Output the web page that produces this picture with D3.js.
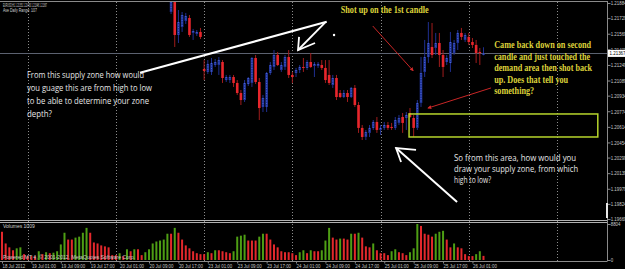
<!DOCTYPE html>
<html>
<head>
<meta charset="utf-8">
<script src="https://cdn.jsdelivr.net/npm/d3@7"></script>
<style>
  body { margin: 0; background: #000; }
  svg { display: block; }
</style>
</head>
<body>
<div id="chart"></div>
<script>
var svgWidth = 625;
var svgHeight = 269;
var plotRight = 607;

// H1 bars, bar 0 = 18 Jul 2012 17:00, last bar = 26 Jul 04:00
var barCount = 132;
var dateLabels = ["18 Jul 2012", "19 Jul 01:00", "19 Jul 09:00", "19 Jul 17:00", "20 Jul 01:00",
  "20 Jul 09:00", "20 Jul 17:00", "23 Jul 01:00", "23 Jul 09:00", "23 Jul 17:00", "24 Jul 01:00",
  "24 Jul 09:00", "24 Jul 17:00", "25 Jul 01:00", "25 Jul 09:00", "25 Jul 17:00", "26 Jul 01:00"];
var labelBars = [0, 8, 16, 24, 32, 40, 48, 56, 64, 72, 80, 88, 96, 104, 112, 120, 128];
var dayStartBars = [7, 31, 55, 79, 103, 127, 151];

// candles visible in the window start at bar 46 (earlier ones are above the top)
var firstCandle = 46;
var opens = [
  1.21792, 1.21894, 1.21556, 1.21638, 1.21700, 1.21730, 1.21577, 1.21566, 1.21587,
  1.21207, 1.21177, 1.21177, 1.21248, 1.21248, 1.21279, 1.21094, 1.21094, 1.21125, 1.21064,
  1.20961, 1.20889, 1.21053, 1.21064, 1.21320, 1.21074, 1.20818, 1.20818, 1.21166, 1.21228,
  1.21351, 1.21197, 1.21228, 1.21330, 1.21146, 1.21166, 1.21197, 1.21228, 1.21218, 1.21279,
  1.21238, 1.21238, 1.21248, 1.21218, 1.21146, 1.21043, 1.21115, 1.20961, 1.20920, 1.20961,
  1.20920, 1.21013, 1.20838, 1.20603, 1.20510, 1.20552, 1.20603, 1.20664, 1.20582, 1.20603,
  1.20633, 1.20613, 1.20603, 1.20654, 1.20715, 1.20705, 1.20756, 1.20705, 1.20603, 1.20859,
  1.21177, 1.21330, 1.21433, 1.21423, 1.21474, 1.21351, 1.21279, 1.21269, 1.21371, 1.21474,
  1.21577, 1.21505, 1.21536, 1.21484, 1.21454, 1.21382, 1.21351];
var highs = [
  1.21966, 1.21946, 1.21812, 1.21792, 1.21782, 1.21761, 1.21618, 1.21607, 1.21628,
  1.21299, 1.21299, 1.21320, 1.21310, 1.21330, 1.21299, 1.21146, 1.21146, 1.21146, 1.21094,
  1.20992, 1.21094, 1.21125, 1.21330, 1.21351, 1.21115, 1.20941, 1.21177, 1.21279, 1.21402,
  1.21382, 1.21279, 1.21351, 1.21402, 1.21177, 1.21218, 1.21248, 1.21320, 1.21299, 1.21371,
  1.21279, 1.21279, 1.21299, 1.21299, 1.21299, 1.21146, 1.21146, 1.20992, 1.20992, 1.20992,
  1.21023, 1.21043, 1.20869, 1.20633, 1.20582, 1.20633, 1.20684, 1.20715, 1.20633, 1.20664,
  1.20664, 1.20654, 1.20715, 1.20736, 1.20756, 1.20766, 1.20807, 1.20736, 1.20889, 1.21330,
  1.21505, 1.21689, 1.21679, 1.21577, 1.21577, 1.21402, 1.21351, 1.21587, 1.21505, 1.21607,
  1.21628, 1.21577, 1.21577, 1.21525, 1.21505, 1.21423, 1.21430];
var lows = [
  1.21771, 1.21433, 1.21474, 1.21587, 1.21669, 1.21536, 1.21505, 1.21546, 1.21515,
  1.21094, 1.21156, 1.21146, 1.21228, 1.21146, 1.21064, 1.21074, 1.21064, 1.21023, 1.20941,
  1.20838, 1.20869, 1.21033, 1.21023, 1.21053, 1.20684, 1.20766, 1.20766, 1.21146, 1.21197,
  1.21238, 1.21177, 1.21197, 1.21115, 1.21064, 1.21125, 1.21166, 1.21177, 1.21197, 1.21218,
  1.21125, 1.21218, 1.21197, 1.21064, 1.21043, 1.21013, 1.20889, 1.20910, 1.20910, 1.20869,
  1.20910, 1.20818, 1.20552, 1.20479, 1.20479, 1.20510, 1.20582, 1.20552, 1.20531, 1.20582,
  1.20582, 1.20582, 1.20582, 1.20633, 1.20552, 1.20582, 1.20705, 1.20510, 1.20582, 1.20818,
  1.21125, 1.21269, 1.21320, 1.21351, 1.21228, 1.21125, 1.21248, 1.21177, 1.21351, 1.21402,
  1.21505, 1.21484, 1.21454, 1.21423, 1.21269, 1.21248, 1.21348];
var closes = [
  1.21894, 1.21556, 1.21689, 1.21761, 1.21751, 1.21556, 1.21597, 1.21587, 1.21536,
  1.21187, 1.21259, 1.21269, 1.21279, 1.21299, 1.21115, 1.21125, 1.21125, 1.21064, 1.20961,
  1.20889, 1.21064, 1.21115, 1.21320, 1.21074, 1.20807, 1.20910, 1.21166, 1.21248, 1.21351,
  1.21248, 1.21248, 1.21330, 1.21146, 1.21125, 1.21197, 1.21228, 1.21218, 1.21279, 1.21228,
  1.21259, 1.21259, 1.21218, 1.21094, 1.21064, 1.21115, 1.20920, 1.20920, 1.20961, 1.20920,
  1.21013, 1.20838, 1.20603, 1.20510, 1.20561, 1.20603, 1.20664, 1.20582, 1.20603, 1.20633,
  1.20603, 1.20603, 1.20684, 1.20705, 1.20654, 1.20736, 1.20715, 1.20603, 1.20859, 1.21166,
  1.21330, 1.21474, 1.21351, 1.21474, 1.21351, 1.21228, 1.21320, 1.21484, 1.21474, 1.21577,
  1.21536, 1.21556, 1.21484, 1.21454, 1.21371, 1.21371, 1.21367];

var volumes = [
  6902, 4046, 3094, 2380, 2856, 3094, 1428, 952, 952, 952,
  2142, 1428, 1904, 1666, 1785, 2142, 3808, 6664, 4998, 4998,
  5474, 5712, 6664, 7854, 6664, 4284, 4046, 3570, 3332, 3094,
  1190, 1190, 1666, 952, 2618, 2142, 2618, 2618, 1190, 1904,
  2618, 4046, 4522, 4760, 4998, 6426, 6426, 7854, 6664, 4998,
  3570, 2856, 2142, 1666, 1428, 1428, 1904, 1666, 2380, 2380,
  2142, 1904, 1666, 2142, 5712, 5950, 6188, 4760, 4760, 4760,
  5712, 6426, 6426, 4998, 3808, 3094, 2142, 1904, 1904, 1666,
  1190, 1904, 2380, 1666, 2380, 2142, 2142, 2380, 4760, 7854,
  5474, 4998, 5236, 5236, 4998, 6426, 6426, 6664, 5474, 3332,
  3094, 4046, 2380, 1666, 1666, 1190, 2142, 2618, 1904, 1666,
  1190, 1904, 2856, 8804, 8330, 6426, 6188, 5712, 6426, 6902,
  7140, 4998, 3094, 4046, 3094, 2856, 1428, 952, 952, 1428,
  2142, 1009];

var priceTicks = [1.21884, 1.21729, 1.21569, 1.21409, 1.21249, 1.21089, 1.20934, 1.20774,
  1.20614, 1.20454, 1.20299, 1.20139, 1.19979, 1.19824, 1.19669];
var volumeTicks = [0, 8804];
var bidPrice = 1.21367;
var headerLines = ["EURUSD,H1  1.21351 1.21430 1.21348 1.21367", "Ave Daily Range: 107"];

var whiteNote1 = ["From this supply zone how would", "you guage this are from high to low",
  "to be able to determine your zone", "depth?"];
var whiteNote2 = ["So from this area, how would you", "draw your supply zone, from which", "high to low?"];
var yellowNote1 = ["Shot up on the 1st candle"];
var yellowNote2 = ["Came back down on second", "candle and just touched the",
  "demand area then shot back", "up. Does that tell you", "something?"];

// scales
var x = d3.scaleLinear().domain([0, 151]).range([2, 557]);
var y = d3.scaleLinear().domain([1.19669, 1.21884]).range([219, 3]);
var yVol = d3.scaleLinear().domain([0, 8804]).range([260, 224]);

var svg = d3.select("#chart")
  .append("svg")
  .attr("width", svgWidth)
  .attr("height", svgHeight)
  .style("background", "#000");

svg.append("defs").append("clipPath")
  .attr("id", "mainClip")
  .append("rect")
  .attr("x", 0).attr("y", 2)
  .attr("width", plotRight).attr("height", 217);

var defs = svg.select("defs");
defs.append("marker")
  .attr("id", "redHead")
  .attr("viewBox", "0 0 10 10")
  .attr("refX", 8).attr("refY", 5)
  .attr("markerWidth", 4).attr("markerHeight", 4)
  .attr("orient", "auto")
  .append("path")
  .attr("d", "M0,0L10,5L0,10z")
  .attr("fill", "#d42a2a");

// frame lines
var frame = svg.append("g").attr("stroke", "#8a8a8a").attr("stroke-width", 1);
frame.append("line").attr("x1", 0).attr("x2", plotRight).attr("y1", 1.5).attr("y2", 1.5);
frame.append("line").attr("x1", plotRight + 0.5).attr("x2", plotRight + 0.5).attr("y1", 1).attr("y2", 261.5);
frame.append("line").attr("x1", 0).attr("x2", plotRight).attr("y1", 261.5).attr("y2", 261.5);
frame.append("line").attr("x1", 0).attr("x2", plotRight).attr("y1", 220.5).attr("y2", 220.5).attr("stroke", "#b0b0b0");
frame.append("line").attr("x1", 0).attr("x2", plotRight).attr("y1", 222.5).attr("y2", 222.5).attr("stroke", "#b0b0b0");

// day separators
svg.append("g").selectAll("line")
  .data(dayStartBars)
  .enter()
  .append("line")
  .attr("x1", d => Math.round(x(d)) + 0.5)
  .attr("x2", d => Math.round(x(d)) + 0.5)
  .attr("y1", 2)
  .attr("y2", 261)
  .attr("stroke", "#8c8c8c")
  .attr("stroke-dasharray", "1,2");

// bid line
svg.append("line")
  .attr("x1", 0).attr("x2", plotRight)
  .attr("y1", Math.round(y(bidPrice)) + 0.5)
  .attr("y2", Math.round(y(bidPrice)) + 0.5)
  .attr("stroke", "#5c6270");

// candles
var candles = opens.map(function(o, i) {
  return { bar: firstCandle + i, open: o, high: highs[i], low: lows[i], close: closes[i] };
});

var candleGroup = svg.append("g").attr("clip-path", "url(#mainClip)");

candleGroup.selectAll(".wick")
  .data(candles)
  .enter()
  .append("line")
  .attr("x1", d => x(d.bar))
  .attr("x2", d => x(d.bar))
  .attr("y1", d => y(d.high))
  .attr("y2", d => y(d.low))
  .attr("stroke", d => d.close >= d.open ? "#1f2f8f" : "#a01c1c")
  .attr("stroke-width", 1);

candleGroup.selectAll(".body")
  .data(candles)
  .enter()
  .append("rect")
  .attr("x", d => x(d.bar) - 1.3)
  .attr("width", 2.6)
  .attr("y", d => y(Math.max(d.open, d.close)))
  .attr("height", d => Math.max(1, Math.abs(y(d.open) - y(d.close))))
  .attr("fill", d => d.close >= d.open ? "#213499" : "#e8262c");

// dotted highlight inside bull bodies
candleGroup.selectAll(".dots")
  .data(candles.filter(d => d.close > d.open))
  .enter()
  .append("line")
  .attr("x1", d => x(d.bar))
  .attr("x2", d => x(d.bar))
  .attr("y1", d => y(d.close))
  .attr("y2", d => y(d.open))
  .attr("stroke", "#5a78e8")
  .attr("stroke-width", 0.8)
  .attr("stroke-dasharray", "1,1.5");

// volumes (green when above previous bar)
svg.append("g").selectAll("rect")
  .data(volumes)
  .enter()
  .append("rect")
  .attr("x", (d, i) => x(i) - 1)
  .attr("width", 2)
  .attr("y", d => yVol(d))
  .attr("height", d => yVol(0) - yVol(d))
  .attr("fill", (d, i) => (i > 0 && d > volumes[i - 1]) ? "#4e9e14" : "#e4282c");

// axes
function styleAxis(g) {
  g.select(".domain").remove();
  g.selectAll("line").attr("stroke", "#8a8a8a");
  g.selectAll("text")
    .attr("fill", "#c8c8c8")
    .attr("transform", "scale(0.8,1)");
  g.attr("font-size", 5.5).attr("font-family", "'Liberation Sans', Arial, sans-serif");
}

var priceAxis = d3.axisRight(y)
  .tickValues(priceTicks)
  .tickFormat(d3.format(".5f"))
  .tickSize(3)
  .tickPadding(1);

svg.append("g")
  .attr("transform", `translate(${plotRight + 0.5}, 0)`)
  .call(priceAxis)
  .call(styleAxis);

var volAxis = d3.axisRight(yVol)
  .tickValues(volumeTicks)
  .tickFormat(d3.format("d"))
  .tickSize(3)
  .tickPadding(1);

svg.append("g")
  .attr("transform", `translate(${plotRight + 0.5}, 0)`)
  .call(volAxis)
  .call(styleAxis);

var timeAxis = d3.axisBottom(x)
  .tickValues(labelBars)
  .tickFormat((d, i) => dateLabels[i])
  .tickSize(2)
  .tickPadding(1);

svg.append("g")
  .attr("transform", "translate(0, 261.5)")
  .call(timeAxis)
  .call(styleAxis)
  .selectAll("text")
  .attr("text-anchor", "start");

// current price tag
var tag = svg.append("g").attr("transform", `translate(${plotRight + 1}, ${y(bidPrice)})`);
tag.append("rect").attr("x", 0).attr("y", -3.5).attr("width", 18).attr("height", 7).attr("fill", "#fff");
tag.append("text")
  .attr("x", 2).attr("y", 2)
  .attr("font-size", 5.5)
  .attr("font-family", "'Liberation Sans', Arial, sans-serif")
  .attr("fill", "#000")
  .attr("transform", "scale(0.8,1)")
  .text(d3.format(".5f")(bidPrice));

// scroll marker on the axis
svg.append("rect")
  .attr("x", plotRight - 1).attr("y", 203)
  .attr("width", 2).attr("height", 15)
  .attr("fill", "#e8e8e8");

// header and footer text
svg.append("g").selectAll("text")
  .data(headerLines)
  .enter()
  .append("text")
  .attr("x", 3)
  .attr("y", (d, i) => 7 + i * 4.5)
  .attr("font-size", 5)
  .attr("font-family", "'Liberation Sans', Arial, sans-serif")
  .attr("fill", "#d0d0d0")
  .attr("textLength", (d, i) => [44, 34][i])
  .attr("lengthAdjust", "spacingAndGlyphs")
  .text(d => d);

svg.append("text")
  .attr("x", 3).attr("y", 228)
  .attr("font-size", 5)
  .attr("font-family", "'Liberation Sans', Arial, sans-serif")
  .attr("fill", "#d0d0d0")
  .text("Volumes 1009");

svg.append("text")
  .attr("x", 3).attr("y", 259)
  .attr("font-size", 6)
  .attr("font-family", "'Liberation Sans', Arial, sans-serif")
  .attr("fill", "#c8c8c8")
  .attr("textLength", 132)
  .attr("lengthAdjust", "spacingAndGlyphs")
  .text("Powered MT 4, © 2001-2012, MetaQuotes Software Corp.");

// annotations (anchored in bar / price coordinates)
var line = d3.line().x(d => x(d[0])).y(d => y(d[1]));
var notes = svg.append("g");

notes.append("path")
  .attr("d", line([[37.55, 1.21169], [88.35, 1.21692]]))
  .attr("stroke", "#fff").attr("stroke-width", 2.2).attr("fill", "none");

notes.append("path")
  .attr("d", line([[80.82, 1.21536], [80.54, 1.21402], [85.17, 1.21474]]))
  .attr("stroke", "#fff").attr("stroke-width", 1.8).attr("fill", "none");
notes.append("path")
  .attr("d", line([[87.89, 1.21682], [80.54, 1.21402]]))
  .attr("stroke", "#fff").attr("stroke-width", 1.8).attr("fill", "none");

notes.append("circle")
  .attr("cx", x(90.34)).attr("cy", y(1.21556)).attr("r", 1.2)
  .attr("fill", "#fff");

notes.append("path")
  .attr("d", line([[123.81, 1.19843], [107.21, 1.20397]]))
  .attr("stroke", "#fff").attr("stroke-width", 2).attr("fill", "none");
notes.append("path")
  .attr("d", line([[112.65, 1.20377], [107.21, 1.20397], [108.57, 1.20254]]))
  .attr("stroke", "#fff").attr("stroke-width", 1.8).attr("fill", "none");

notes.append("path")
  .attr("d", line([[100.87, 1.21648], [111.84, 1.21190]]))
  .attr("stroke", "#c82626").attr("stroke-width", 1).attr("fill", "none")
  .attr("marker-end", "url(#redHead)");
notes.append("path")
  .attr("d", line([[133.06, 1.21013], [115.92, 1.20807]]))
  .attr("stroke", "#c82626").attr("stroke-width", 1).attr("fill", "none")
  .attr("marker-end", "url(#redHead)");

notes.append("rect")
  .attr("x", x(110.75)).attr("y", y(1.20746))
  .attr("width", x(162.1) - x(110.75))
  .attr("height", y(1.20510) - y(1.20746))
  .attr("fill", "none")
  .attr("stroke", "#b6d42c")
  .attr("stroke-width", 1.5);

function textBlock(lines, bar, price, lineHeight, widths, font, color, size, weight) {
  notes.append("g").selectAll("text")
    .data(lines)
    .enter()
    .append("text")
    .attr("x", x(bar))
    .attr("y", (d, i) => y(price) + i * lineHeight)
    .attr("font-family", font)
    .attr("font-size", size)
    .attr("font-weight", weight)
    .attr("fill", color)
    .attr("textLength", (d, i) => widths[i])
    .attr("lengthAdjust", "spacingAndGlyphs")
    .text(d => d);
}

var sans = "'Open Sans', 'Liberation Sans', sans-serif";
var serif = "'Liberation Serif', 'Times New Roman', serif";
textBlock(whiteNote1, 6.8, 1.21110, 12.7, [117, 125, 122, 25], sans, "#e6e6e6", 9.5, "normal");
textBlock(whiteNote2, 123.0, 1.20264, 11, [122, 124, 37], sans, "#e6e6e6", 9.5, "normal");
textBlock(yellowNote1, 92.16, 1.21782, 11.5, [88], serif, "#dcd23a", 10, "bold");
textBlock(yellowNote2, 133.9, 1.21418, 11.5, [97, 96, 98, 74, 40], serif, "#dcd23a", 10, "bold");
</script>
</body>
</html>
